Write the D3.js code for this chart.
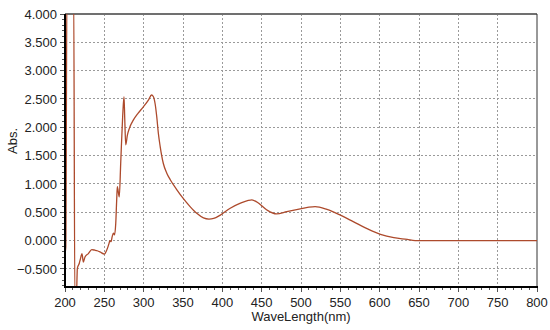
<!DOCTYPE html>
<html>
<head>
<meta charset="utf-8">
<script src="https://cdn.jsdelivr.net/npm/d3@7"></script>
<style>
  body { margin: 0; background: #fff; }
  svg { display: block; font-family: "Liberation Sans", Arial, sans-serif; }
</style>
</head>
<body>
<svg id="chart" width="550" height="330"></svg>
<script>
// spectrum (values above 4 / below -0.82 are off scale)
var wavelength = [200, 201, 202.5, 211, 212.5, 214.5, 215.7, 218.2, 219.5, 221.6, 223.3, 225.4, 229.7,
    234, 238, 241, 244.5, 250, 253, 256, 257, 258.5, 260, 261.5, 263, 264.5, 265.7, 266.5, 269,
    270.8, 273.3, 275, 276, 277.2, 279.3, 281.8, 287, 293, 299.6, 306, 310, 312.4, 314.5, 316.6,
    318.7, 321, 325, 329.4, 334, 342, 350.5, 359, 367.5, 376, 383, 389, 397.5, 410, 423, 433, 437.6, 444,
    456.6, 469, 482, 499, 510, 518, 533, 550, 567, 584, 601, 618, 635, 645, 700, 750, 800];
var absorbance = [-0.22, -0.12, 4.5, 4.5, -1.0, -1.0, -0.49, -0.40, -0.33, -0.23, -0.38, -0.29, -0.23,
    -0.16, -0.17, -0.18, -0.20, -0.24, -0.17, -0.05, 0.0, -0.02, 0.07, 0.13, 0.10, 0.30, 0.71, 0.95, 0.77,
    1.36, 2.19, 2.54, 2.13, 1.69, 1.86, 1.98, 2.13, 2.25, 2.36, 2.48, 2.57, 2.54, 2.42, 2.19,
    1.89, 1.66, 1.36, 1.19, 1.07, 0.90, 0.74, 0.60, 0.48, 0.40, 0.38, 0.39, 0.45, 0.57, 0.66, 0.71, 0.72, 0.68,
    0.54, 0.47, 0.51, 0.56, 0.59, 0.60, 0.55, 0.45, 0.33, 0.21, 0.11, 0.05, 0.02, 0.0, 0.0, 0.0, 0.0];

var xTicks = [200, 250, 300, 350, 400, 450, 500, 550, 600, 650, 700, 750, 800];
var yTicks = [-0.5, 0, 0.5, 1, 1.5, 2, 2.5, 3, 3.5, 4];
var xTitle = 'WaveLength(nm)',
    yTitle = 'Abs.';

var svg = d3.select('#chart'),
    margin = {top: 14, right: 13, bottom: 43, left: 65},
    W = 550 - margin.left - margin.right,
    H = 330 - margin.top - margin.bottom;

var x = d3.scaleLinear().domain([200, 800]).range([0, W]),
    y = d3.scaleLinear().domain([-0.82, 4]).range([H, 0]);

var g = svg.append('g')
    .attr('transform', 'translate(' + margin.left + ',' + margin.top + ')');

g.append('clipPath').attr('id', 'clip')
    .append('rect').attr('width', W).attr('height', H);

// grid
g.selectAll('line.gx')
    .data(xTicks.slice(1, -1))
    .enter().append('line')
        .attr('class', 'gx')
        .attr('x1', x).attr('x2', x)
        .attr('y1', 0).attr('y2', H);
g.selectAll('line.gy')
    .data(yTicks.slice(0, -1))
    .enter().append('line')
        .attr('class', 'gy')
        .attr('x1', 0).attr('x2', W)
        .attr('y1', y).attr('y2', y);
g.selectAll('line.gx, line.gy')
    .attr('stroke', '#9a9a9a')
    .attr('stroke-width', 1)
    .attr('stroke-dasharray', '2,2')
    .attr('shape-rendering', 'crispEdges');

// minor ticks
var xMinor = d3.range(200, 801, 10),
    yMinor = d3.range(-8, 41).map(function(d) { return d / 10; });

g.selectAll('line.mx')
    .data(xMinor)
    .enter().append('line')
        .attr('x1', x).attr('x2', x)
        .attr('y1', H).attr('y2', function(d) { return d % 50 === 0 ? H + 5 : H + 3; })
        .attr('stroke', '#555').attr('stroke-width', 1)
        .attr('shape-rendering', 'crispEdges');
g.selectAll('line.my')
    .data(yMinor)
    .enter().append('line')
        .attr('y1', y).attr('y2', y)
        .attr('x1', 0).attr('x2', function(d) {
            return Math.abs(d * 10 % 5) < 1e-6 ? -5 : -3;
        })
        .attr('stroke', '#555').attr('stroke-width', 1)
        .attr('shape-rendering', 'crispEdges');

// frame
g.append('line').attr('x1', 0).attr('x2', W).attr('y1', 0).attr('y2', 0)
    .attr('stroke', '#707070').attr('stroke-width', 2);
g.append('line').attr('x1', W).attr('x2', W).attr('y1', 0).attr('y2', H)
    .attr('stroke', '#333').attr('stroke-width', 1);

// curve
var line = d3.line()
    .curve(d3.curveMonotoneX)
    .x(function(d) { return x(d[0]); })
    .y(function(d) { return y(d[1]); });

g.append('path')
    .datum(d3.zip(wavelength, absorbance))
    .attr('clip-path', 'url(#clip)')
    .attr('d', line)
    .attr('fill', 'none')
    .attr('stroke', '#ad4a2c')
    .attr('stroke-width', 1.3)
    .attr('stroke-linejoin', 'round');

// axes lines
g.append('line').attr('x1', 0).attr('x2', 0).attr('y1', 0).attr('y2', H + 1)
    .attr('stroke', '#000').attr('stroke-width', 2);
g.append('line').attr('x1', -1).attr('x2', W + 1).attr('y1', H).attr('y2', H)
    .attr('stroke', '#000').attr('stroke-width', 2);

// tick labels
g.selectAll('text.xl')
    .data(xTicks)
    .enter().append('text')
        .attr('x', x).attr('y', H + 20)
        .attr('text-anchor', 'middle')
        .text(function(d) { return d; });
g.selectAll('text.yl')
    .data(yTicks)
    .enter().append('text')
        .attr('x', -8).attr('y', y).attr('dy', '0.36em')
        .attr('text-anchor', 'end')
        .text(function(d) { return d3.format('.3f')(d).replace('-', '\u2212'); });
g.selectAll('text')
    .attr('font-size', 13).attr('fill', '#222');

// titles
svg.append('text')
    .attr('x', margin.left + W / 2).attr('y', 321)
    .attr('text-anchor', 'middle')
    .attr('font-size', 13).attr('fill', '#222')
    .text(xTitle);
svg.append('text')
    .attr('transform', 'translate(17,141) rotate(-90)')
    .attr('text-anchor', 'middle')
    .attr('font-size', 13).attr('fill', '#222')
    .text(yTitle);
</script>
</body>
</html>
